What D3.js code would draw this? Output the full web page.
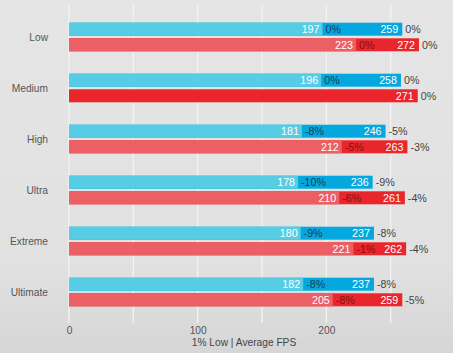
<!DOCTYPE html>
<html>
<head>
<meta charset="utf-8">
<script src="https://cdn.jsdelivr.net/npm/d3@7"></script>
<style>
  body { margin: 0; background: #e2e2e2; }
  svg { display: block; font-family: "Liberation Sans", Arial, sans-serif; }
</style>
</head>
<body>
<div id="chart"></div>
<script>
const categories = ["Low", "Medium", "High", "Ultra", "Extreme", "Ultimate"];
const blueLow = [197, 196, 181, 178, 180, 182];
const blueAvg = [259, 258, 246, 236, 237, 237];
const blueLowPct = ["0%", "0%", "-8%", "-10%", "-9%", "-8%"];
const blueAvgPct = ["0%", "0%", "-5%", "-9%", "-8%", "-8%"];
const redLow = [223, null, 212, 210, 221, 205];
const redAvg = [272, 271, 263, 261, 262, 259];
const redLowPct = ["0%", null, "-5%", "-6%", "-1%", "-8%"];
const redAvgPct = ["0%", "0%", "-3%", "-4%", "-4%", "-5%"];
const gridTicks = [0, 50, 100, 150, 200, 250];
const labelTicks = [0, 100, 200];

const width = 453, height = 353;
const margin = ({ top: 5, right: 34, bottom: 30, left: 69 });
const fs = 10.2;

const colors = {
  blue: { light: "#56cce5", dark: "#04a8df", pct: "#1c3f52" },
  red: { light: "#eb6064", dark: "#e8262b", pct: "#7d1416" }
};

// rows: one per bar
let rows = [];
categories.forEach((c, i) => {
  rows.push({ cat: c, s: "blue", low: blueLow[i], avg: blueAvg[i], lowPct: blueLowPct[i], avgPct: blueAvgPct[i] });
  rows.push({ cat: c, s: "red", low: redLow[i], avg: redAvg[i], lowPct: redLowPct[i], avgPct: redAvgPct[i] });
});

let svg = d3.select("#chart")
  .append("svg")
  .attr("width", width)
  .attr("height", height);

let defs = svg.append("defs");
let grad = defs.append("linearGradient")
  .attr("id", "bg")
  .attr("x1", 0).attr("y1", 0).attr("x2", 0).attr("y2", 1);
grad.append("stop").attr("offset", "0%").attr("stop-color", "#e5e5e5");
grad.append("stop").attr("offset", "75%").attr("stop-color", "#e1e1e1");
grad.append("stop").attr("offset", "100%").attr("stop-color", "#d6d6d6");

svg.append("rect")
  .attr("width", width)
  .attr("height", height)
  .attr("fill", "url(#bg)");

let x = d3.scaleLinear()
  .domain([0, d3.max(redAvg)])
  .range([margin.left, 419]);

let y = d3.scaleBand()
  .domain(categories)
  .range([11.5, 317.5]);

let ySub = d3.scaleBand()
  .domain(["blue", "red"])
  .range([-14.3, 14.3])
  .paddingInner(0.167);

// gridlines
svg.append("g")
  .selectAll("line")
  .data(gridTicks)
  .join("line")
  .attr("x1", d => x(d))
  .attr("x2", d => x(d))
  .attr("y1", margin.top)
  .attr("y2", 323)
  .attr("stroke", "#f3f3f3")
  .attr("stroke-width", 1.3);

// x axis labels
let xAxis = svg.append("g")
  .attr("transform", `translate(0,${334})`)
  .call(d3.axisBottom(x).tickValues(labelTicks).tickSize(0).tickPadding(0));
xAxis.select(".domain").remove();
xAxis.selectAll("text")
  .attr("dy", null)
  .attr("font-size", fs)
  .attr("font-family", "Liberation Sans, Arial, sans-serif")
  .attr("fill", "#555");

svg.append("text")
  .attr("x", (x.range()[0] + x.range()[1]) / 2)
  .attr("y", 346)
  .attr("text-anchor", "middle")
  .attr("font-size", fs)
  .attr("fill", "#444")
  .text("1% Low | Average FPS");

// category labels
svg.append("g")
  .selectAll("text")
  .data(categories)
  .join("text")
  .attr("x", 48)
  .attr("y", d => y(d) + y.bandwidth() / 2)
  .attr("dy", "0.35em")
  .attr("text-anchor", "end")
  .attr("font-size", fs)
  .attr("fill", "#555")
  .text(d => d);

let bar = svg.selectAll(".bar")
  .data(rows)
  .join("g")
  .attr("class", "bar")
  .attr("transform", d => `translate(0,${y(d.cat) + y.bandwidth() / 2 + ySub(d.s)})`);

const bh = ySub.bandwidth();

// full (average) bar in dark colour
bar.append("rect")
  .attr("x", x(0))
  .attr("width", d => x(d.avg) - x(0))
  .attr("height", bh)
  .attr("fill", d => colors[d.s].dark);

// 1% low part in light colour
bar.filter(d => d.low != null)
  .append("rect")
  .attr("x", x(0))
  .attr("width", d => x(d.low) - x(0))
  .attr("height", bh)
  .attr("fill", d => colors[d.s].light);

// 1% low value
bar.filter(d => d.low != null)
  .append("text")
  .attr("x", d => x(d.low) - 3)
  .attr("y", bh / 2)
  .attr("dy", "0.36em")
  .attr("text-anchor", "end")
  .attr("font-size", fs + 0.5)
  .attr("fill", "#fff")
  .text(d => d.low);

// 1% low change
bar.filter(d => d.low != null)
  .append("text")
  .attr("x", d => x(d.low) + 3)
  .attr("y", bh / 2)
  .attr("dy", "0.36em")
  .attr("font-size", fs + 0.5)
  .attr("fill", d => colors[d.s].pct)
  .text(d => d.lowPct);

// average value
bar.append("text")
  .attr("x", d => x(d.avg) - 4)
  .attr("y", bh / 2)
  .attr("dy", "0.36em")
  .attr("text-anchor", "end")
  .attr("font-size", fs + 0.5)
  .attr("fill", "#fff")
  .text(d => d.avg);

// average change
bar.append("text")
  .attr("x", d => x(d.avg) + 3)
  .attr("y", bh / 2)
  .attr("dy", "0.36em")
  .attr("font-size", fs + 0.5)
  .attr("fill", "#444")
  .text(d => d.avgPct);
</script>
</body>
</html>
